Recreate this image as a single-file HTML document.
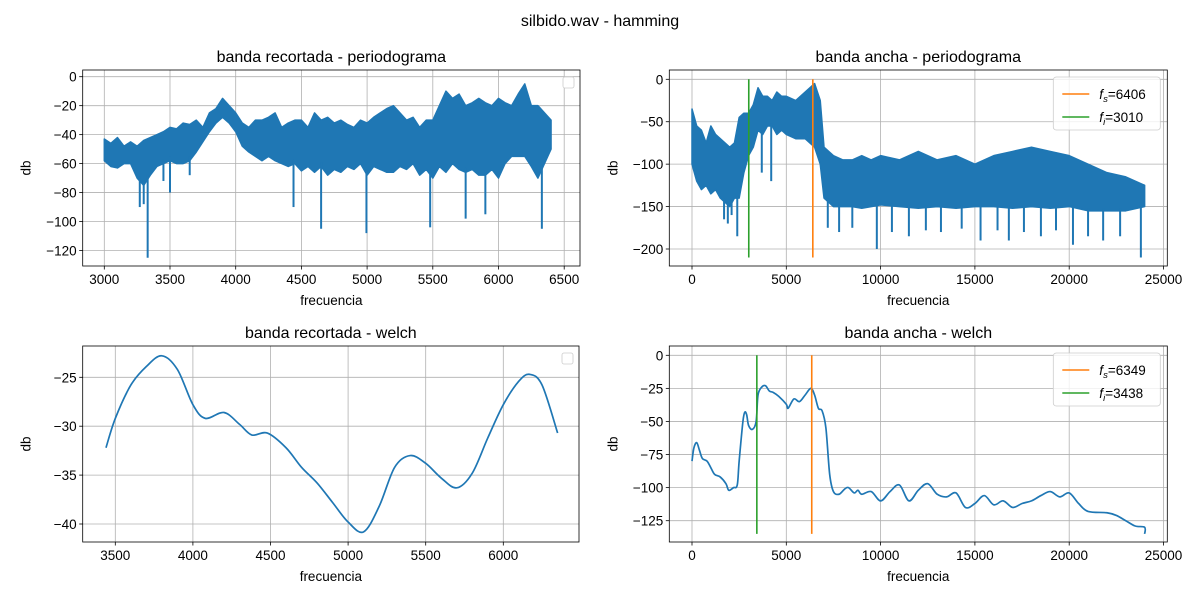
<!DOCTYPE html>
<html><head><meta charset="utf-8"><style>
body{margin:0;background:#fff}
svg text{font-family:"Liberation Sans","DejaVu Sans",sans-serif;fill:#000}
</style></head><body>
<svg id="fig" width="1200" height="600" xmlns="http://www.w3.org/2000/svg">
<text x="600" y="26" font-size="16" text-anchor="middle">silbido.wav - hamming</text>
</svg>
<script>
// ---- data ----
const tlX=[3000,3050,3100,3150,3200,3250,3300,3350,3400,3450,3500,3550,3600,3650,3700,3750,3800,3850,3900,3950,4000,4050,4100,4150,4200,4250,4300,4350,4400,4450,4500,4550,4600,4650,4700,4750,4800,4850,4900,4950,5000,5050,5100,5150,5200,5250,5300,5350,5400,5450,5500,5550,5600,5650,5700,5750,5800,5850,5900,5950,6000,6050,6100,6150,6200,6250,6300,6350,6400];
const tlHi=[-43,-46,-42,-48,-45,-48,-44,-42,-40,-38,-35,-36,-32,-33,-30,-35,-25,-22,-15,-20,-25,-32,-35,-30,-30,-28,-25,-35,-32,-30,-30,-35,-25,-30,-28,-32,-30,-33,-35,-30,-32,-28,-25,-22,-20,-25,-30,-28,-35,-30,-30,-20,-10,-15,-12,-20,-18,-15,-18,-20,-15,-18,-20,-12,-5,-20,-20,-25,-30];
const tlLo=[-58,-62,-63,-60,-60,-70,-75,-68,-62,-60,-58,-60,-60,-58,-52,-45,-38,-32,-28,-32,-38,-48,-52,-55,-58,-55,-58,-60,-62,-60,-65,-62,-66,-62,-68,-64,-66,-62,-64,-60,-68,-62,-64,-66,-66,-62,-64,-60,-68,-64,-70,-62,-66,-60,-64,-66,-64,-68,-68,-64,-70,-60,-55,-55,-55,-62,-70,-60,-50];
const tlSpikeX=[3270,3300,3330,3450,3500,3650,4440,4650,4995,5480,5750,5900,6330];
const tlSpikeY=[-90,-88,-125,-72,-80,-68,-90,-105,-108,-104,-98,-95,-105];
const trX=[0,250,500,750,1000,1250,1500,1750,2000,2250,2500,2750,3000,3250,3500,3750,4000,4250,4500,4750,5000,5500,6000,6500,6800,7000,7500,8000,8500,9000,9500,10000,11000,12000,13000,14000,15000,16000,17000,18000,19000,20000,21000,22000,23000,24000];
const trHi=[-35,-55,-60,-75,-55,-65,-70,-75,-80,-75,-45,-40,-40,-30,-10,-20,-20,-25,-15,-20,-20,-25,-15,-5,-25,-80,-90,-95,-95,-90,-95,-90,-95,-85,-95,-90,-100,-90,-85,-80,-85,-90,-100,-110,-115,-125];
const trLo=[-100,-120,-130,-125,-135,-130,-140,-145,-150,-140,-140,-110,-90,-80,-60,-65,-55,-55,-65,-60,-65,-70,-70,-80,-100,-140,-150,-150,-150,-152,-150,-148,-150,-152,-150,-152,-150,-150,-152,-150,-152,-150,-155,-155,-155,-150];
const trSpikeX=[1700,1900,2100,2400,3700,4200,7200,7800,8500,9800,10600,11500,12400,13200,14300,15300,16200,16800,17600,18500,19300,20200,21000,21800,22700,23800];
const trSpikeY=[-165,-170,-160,-185,-110,-120,-175,-180,-175,-200,-180,-185,-178,-180,-176,-190,-178,-190,-180,-185,-178,-195,-185,-190,-185,-210];
const blX=[3440,3500,3600,3700,3800,3900,4000,4080,4200,4300,4380,4480,4600,4700,4800,4900,5000,5100,5200,5300,5400,5500,5600,5700,5800,5900,6000,6100,6170,6250,6350];
const blY=[-32.2,-29.2,-25.8,-23.9,-22.8,-24.2,-27.8,-29.2,-28.6,-29.8,-30.9,-30.7,-32.2,-34.2,-35.8,-37.8,-39.8,-40.8,-38.2,-34.2,-33.0,-33.8,-35.3,-36.3,-34.8,-31.2,-27.8,-25.4,-24.7,-25.8,-30.7];
const brX=[0,100,250,400,550,800,1000,1200,1500,1800,1950,2200,2400,2500,2700,2800,2900,3000,3200,3400,3500,3700,3900,4100,4300,4600,5000,5100,5400,5700,6000,6300,6500,6700,6900,7100,7300,7500,7800,8100,8300,8600,8800,9000,9500,10000,10500,11000,11500,12000,12500,13000,13500,14000,14500,15000,15500,16000,16500,17000,17500,18000,18500,19000,19500,20000,20500,21000,22000,22500,23000,23500,24000,24000];
const brY=[-80,-70,-66,-72,-78,-80,-85,-90,-92,-97,-102,-100,-98,-80,-50,-43,-45,-53,-56,-50,-30,-24,-23,-27,-28,-31,-37,-40,-33,-35,-30,-25,-30,-40,-42,-55,-90,-103,-105,-101,-100,-104,-102,-105,-103,-110,-103,-98,-110,-102,-97,-105,-107,-104,-115,-112,-106,-113,-110,-115,-112,-110,-106,-103,-107,-104,-112,-118,-119,-121,-125,-129,-130,-135];
const trFs=6406, trFi=3010, brFs=6349, brFi=3438;
const tlYTicks=[0,-20,-40,-60,-80,-100,-120], tlXTicks=[3000,3500,4000,4500,5000,5500,6000,6500];
const trYTicks=[0,-50,-100,-150,-200], rXTicks=[0,5000,10000,15000,20000,25000];
const blYTicks=[-25,-30,-35,-40], blXTicks=[3500,4000,4500,5000,5500,6000];
const brYTicks=[0,-25,-50,-75,-100,-125];

const NS="http://www.w3.org/2000/svg", svg=document.getElementById('fig');
function mk(t,a,p){const e=document.createElementNS(NS,t);for(const k in a)e.setAttribute(k,a[k]);(p||svg).appendChild(e);return e;}
function lin(d0,d1,r0,r1){return v=>r0+(v-d0)*(r1-r0)/(d1-d0);}
function fmt(v){return v<0?'\u2212'+Math.abs(v):''+v;}
function interp(xs,ys,x){for(let i=1;i<xs.length;i++){if(x<=xs[i]){const t=(x-xs[i-1])/(xs[i]-xs[i-1]);return ys[i-1]+t*(ys[i]-ys[i-1]);}}return ys[ys.length-1];}

function axes(name,L,R,T,B,sx,sy,xt,yt,title){
  const g=mk('g',{});
  
  
  xt.forEach(v=>{const x=sx(v); if(x>R+1)return;
    const l=mk('line',{x1:x,x2:x,y1:T,y2:B,stroke:'#b0b0b0','stroke-width':0.8},g);
    mk('line',{x1:x,x2:x,y1:B,y2:B+3.5,stroke:'#000','stroke-width':0.8},g);
    const t=mk('text',{x:x,y:B+18,'font-size':13.5,'text-anchor':'middle'},g);t.textContent=fmt(v);
    });
  yt.forEach(v=>{const y=sy(v);
    const l=mk('line',{x1:L,x2:R,y1:y,y2:y,stroke:'#b0b0b0','stroke-width':0.8},g);
    mk('line',{x1:L-3.5,x2:L,y1:y,y2:y,stroke:'#000','stroke-width':0.8},g);
    const t=mk('text',{x:L-6,y:y+5,'font-size':13.5,'text-anchor':'end'},g);t.textContent=fmt(v);
    });
  const tt=mk('text',{x:(L+R)/2,y:T-8,'font-size':16,'text-anchor':'middle'},g);tt.textContent=title;
  
  const xl=mk('text',{x:(L+R)/2,y:B+39,'font-size':13.5,'text-anchor':'middle'},g);xl.textContent='frecuencia';
  
  const yl=mk('text',{x:0,y:0,'font-size':13.5,'text-anchor':'middle',transform:`translate(${L-52},${(T+B)/2}) rotate(-90)`},g);yl.textContent='db';
  
  return g;
}
function frame(L,R,T,B){const f=mk('rect',{x:L,y:T,width:R-L,height:B-T,fill:'none',stroke:'#000','stroke-width':0.8});
  }
function band(g,xs,hi,lo,sx,sy,spX,spY){
  let d='M'+xs.map((v,i)=>sx(v)+','+sy(hi[i])).join('L');
  for(let i=xs.length-1;i>=0;i--)d+='L'+sx(xs[i])+','+sy(lo[i]);
  const p=mk('path',{d:d+'Z',fill:'#1f77b4',stroke:'#1f77b4','stroke-width':1.5,'stroke-linejoin':'round'},g);
  
  spX.forEach((v,i)=>{
    const top=interp(xs,lo,v)+3;
    const l=mk('line',{x1:sx(v),x2:sx(v),y1:sy(top),y2:sy(spY[i]),stroke:'#1f77b4','stroke-width':2},g);
    });
}
function smoothPath(pts){let d='M'+pts[0][0]+','+pts[0][1];
  for(let i=0;i<pts.length-1;i++){const p0=pts[Math.max(0,i-1)],p1=pts[i],p2=pts[i+1],p3=pts[Math.min(pts.length-1,i+2)];
    const c1x=p1[0]+(p2[0]-p0[0])/6,c1y=p1[1]+(p2[1]-p0[1])/6,c2x=p2[0]-(p3[0]-p1[0])/6,c2y=p2[1]-(p3[1]-p1[1])/6;
    d+=`C${c1x},${c1y} ${c2x},${c2y} ${p2[0]},${p2[1]}`;}return d;}
function curve(g,xs,ys,sx,sy){
  const p=mk('path',{d:smoothPath(xs.map((v,i)=>[sx(v),sy(ys[i])])),fill:'none',stroke:'#1f77b4','stroke-width':1.7,'stroke-linejoin':'round'},g);
  
}
function vline(g,x,y0,y1,c,name){const l=mk('line',{x1:x,x2:x,y1:y0,y2:y1,stroke:c,'stroke-width':1.6},g);
  }
function emptyLegend(R,T){const r=mk('rect',{x:R-17,y:T+7,width:11,height:11,rx:2,fill:'#fff',stroke:'#ccc','stroke-width':0.8});
  }
function legend(R,T,fs,fi){
  const g=mk('g',{});
  mk('rect',{x:R-114,y:T+7,width:107,height:53,rx:3,fill:'#fff','fill-opacity':0.8,stroke:'#ccc','stroke-width':0.8},g);
  [[fs,'#ff7f0e','s'],[fi,'#2ca02c','i']].forEach((e,i)=>{const y=T+24+i*23;
    const it=mk('g',{},g);
    mk('line',{x1:R-105,x2:R-78,y1:y,y2:y,stroke:e[1],'stroke-width':1.6},it);
    const t=mk('text',{x:R-68,y:y+5,'font-size':13.5},it);
    const a=mk('tspan',{'font-style':'italic'},t);a.textContent='f';
    const b=mk('tspan',{'font-style':'italic','font-size':9.5,dy:3},t);b.textContent=e[2];
    const c=mk('tspan',{dy:-3},t);c.textContent='='+e[0];});
}
// top-left
{const L=82.7,R=580,T=70,B=266,sx=lin(3000,3500,104.3,170),sy=lin(0,-120,76.7,250.5);
 const g=axes('periodogram-recortada-panel',L,R,T,B,sx,sy,tlXTicks,tlYTicks,'banda recortada - periodograma');
 band(g,tlX,tlHi,tlLo,sx,sy,tlSpikeX,tlSpikeY);frame(L,R,T,B);emptyLegend(R,T);}
// top-right
const rsx=lin(0,5000,692,786.3);
{const L=669.3,R=1167.3,T=70,B=266,sy=lin(0,-200,79.3,249);
 const g=axes('periodogram-ancha-panel',L,R,T,B,rsx,sy,rXTicks,trYTicks,'banda ancha - periodograma');
 band(g,trX,trHi,trLo,rsx,sy,trSpikeX,trSpikeY);
 vline(g,rsx(trFs),sy(0),sy(-210),'#ff7f0e','fs-line');vline(g,rsx(trFi),sy(0),sy(-210),'#2ca02c','fi-line');
 frame(L,R,T,B);legend(R,T,trFs,trFi);}
// bottom-left
{const L=82.7,R=579,T=346,B=542,sx=lin(3500,6000,115.3,503.3),sy=lin(-25,-40,377.3,524);
 const g=axes('welch-recortada-panel',L,R,T,B,sx,sy,blXTicks,blYTicks,'banda recortada - welch');
 curve(g,blX,blY,sx,sy);frame(L,R,T,B);emptyLegend(R,T);}
// bottom-right
{const L=669.3,R=1167.3,T=346,B=542,sy=lin(0,-125,355.3,520.7);
 const g=axes('welch-ancha-panel',L,R,T,B,rsx,sy,rXTicks,brYTicks,'banda ancha - welch');
 curve(g,brX,brY,rsx,sy);
 vline(g,rsx(brFs),sy(0),sy(-135),'#ff7f0e','fs-line');vline(g,rsx(brFi),sy(0),sy(-135),'#2ca02c','fi-line');
 frame(L,R,T,B);legend(R,T,brFs,brFi);}
</script>
</body></html>
